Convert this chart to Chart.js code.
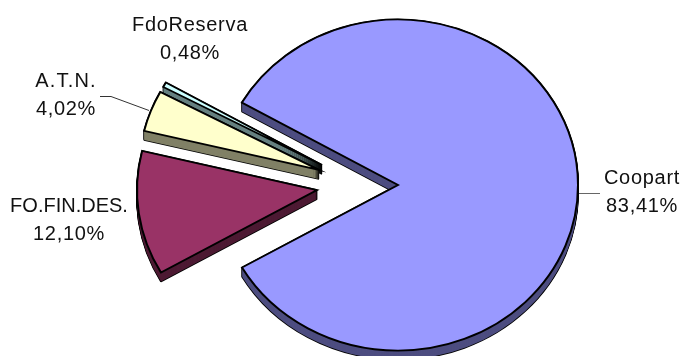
<!DOCTYPE html>
<html>
<head>
<meta charset="utf-8">
<title>Pie</title>
<script src="https://cdn.jsdelivr.net/npm/chart.js@4/dist/chart.umd.min.js"></script>
<style>
  html, body { margin: 0; padding: 0; background: #fff; }
  #wrap { width: 683px; height: 356px; }
</style>
</head>
<body>
<div id="wrap"><canvas id="chart" width="683" height="356"></canvas></div>
<script>
const categories = ['Coopart', 'FO.FIN.DES.', 'A.T.N.', 'FdoReserva'];
const shares = [83.41, 12.10, 4.02, 0.48];

const faceColors = ['#9999ff', '#993366', '#ffffcc', '#ccffff'];
const wallColors = ['#4d4d80', '#4d1a33', '#808066', '#668080'];

// how far each slice is pulled out of the pie, in px
const explodeX = [0, -81, -79, -76];
const explodeY = [0, 5, -15, -20];

// label anchors: centre x, first line baseline, tracking of the name
const labelX = [642, 69, 66, 190];
const labelY = [184, 212, 87, 31];
const nameTracking = [0.7, 0, 1.2, 0.7];

const SQUASH = 0.92;
const DEPTH = 9;

const withOptions = (arc, overrides, fn) => {
    const saved = arc.options;
    arc.options = Object.assign(Object.create(saved), overrides);
    fn();
    arc.options = saved;
};

// Tilted 3D look: squash the pie and stack copies of each arc downwards
const tiltedPie = {
    id: 'tiltedPie',
    beforeDatasetsDraw(chart) {
        const { ctx } = chart;
        const arcs = chart.getDatasetMeta(0).data;

        const stamp = (arc, i, down, overrides) => {
            ctx.save();
            ctx.translate(arc.x + explodeX[i], arc.y + explodeY[i] + down);
            ctx.scale(1, SQUASH);
            ctx.translate(-arc.x, -arc.y);
            withOptions(arc, overrides, () => arc.draw(ctx));
            ctx.restore();
        };

        for (let i = arcs.length - 1; i >= 0; i--) {
            const arc = arcs[i];
            for (let d = DEPTH; d >= 0; d--) {
                stamp(arc, i, d, { backgroundColor: '#000', borderColor: '#000', borderWidth: 1.6, borderJoinStyle: 'bevel' });
            }
            for (let d = DEPTH; d >= 0; d--) {
                stamp(arc, i, d, { backgroundColor: wallColors[i], borderWidth: 0 });
            }
            stamp(arc, i, 0, {});
        }
        return false;
    },
    afterDraw(chart) {
        const { ctx } = chart;
        ctx.save();

        // leader lines
        ctx.lineWidth = 1;
        ctx.strokeStyle = '#333';
        ctx.beginPath();
        ctx.moveTo(100, 96.5);
        ctx.lineTo(111, 96.5);
        ctx.lineTo(149, 110.5);
        ctx.stroke();
        ctx.strokeStyle = '#666';
        ctx.beginPath();
        ctx.moveTo(579, 193.5);
        ctx.lineTo(600, 193.5);
        ctx.stroke();

        ctx.fillStyle = '#111';
        ctx.font = '20px "Liberation Sans", Arial, sans-serif';
        ctx.textAlign = 'center';
        ctx.textBaseline = 'alphabetic';
        categories.forEach((name, i) => {
            const pct = shares[i].toFixed(2).replace('.', ',') + '%';
            ctx.letterSpacing = nameTracking[i] + 'px';
            ctx.fillText(name, labelX[i], labelY[i]);
            ctx.letterSpacing = '0.7px';
            ctx.fillText(pct, labelX[i], labelY[i] + 28);
        });
        ctx.restore();
    }
};

new Chart(document.getElementById('chart'), {
    type: 'pie',
    data: {
        labels: categories,
        datasets: [{
            data: shares,
            backgroundColor: faceColors,
            borderColor: '#000',
            borderWidth: 2,
            borderJoinStyle: 'miter'
        }]
    },
    options: {
        responsive: false,
        animation: false,
        rotation: -60.15,
        radius: 180,
        layout: { padding: { left: 113, top: 14, right: 0, bottom: 0 } },
        plugins: { legend: { display: false }, tooltip: { enabled: false } }
    },
    plugins: [tiltedPie]
});
</script>
</body>
</html>
